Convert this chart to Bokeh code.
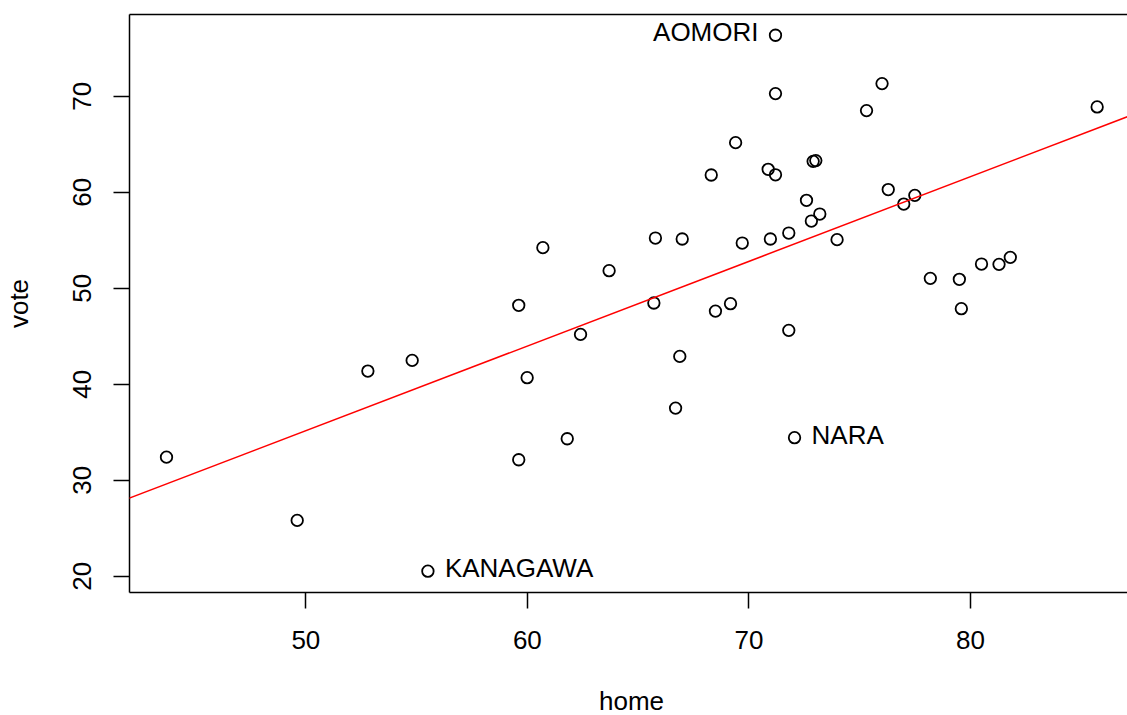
import numpy as np
import pandas as pd
from bokeh.plotting import figure
from bokeh.models import Range1d, FixedTicker, LinearAxis, Slope, ColumnDataSource, Label
from bokeh.core.properties import value
from bokeh.embed import file_html
from bokeh.resources import INLINE

# ---- data ----
home = [43.71, 49.61, 52.80, 54.80, 55.51, 59.61, 59.99, 59.61, 60.70, 61.80,
        62.40, 63.69, 65.71, 65.78, 66.69, 66.88, 66.99, 68.30, 68.49, 69.17,
        69.40, 69.70, 70.87, 70.97, 71.20, 71.20, 71.20, 71.80, 71.80, 72.06,
        72.60, 72.82, 72.90, 73.02, 73.20, 73.98, 75.31, 76.01, 76.29, 76.99,
        77.49, 78.19, 79.50, 79.59, 80.50, 81.29, 81.80, 85.72]
vote = [32.40, 25.81, 41.37, 42.48, 20.52, 48.22, 40.68, 32.13, 54.23, 34.32,
        45.19, 51.83, 48.46, 55.23, 37.51, 42.90, 55.13, 61.80, 47.62, 48.39,
        65.17, 54.71, 62.39, 55.13, 76.36, 70.28, 61.82, 55.75, 45.61, 34.43,
        59.16, 57.00, 63.22, 63.30, 57.73, 55.06, 68.51, 71.32, 60.28, 58.77,
        59.68, 51.03, 50.93, 47.87, 52.52, 52.49, 53.22, 68.89]
label = [""] * len(home)
label[4] = "KANAGAWA"
label[24] = "AOMORI"
label[29] = "NARA"
label_side = [""] * len(home)
label_side[4] = "right"
label_side[24] = "left"
label_side[29] = "right"

x_ticks = [50, 60, 70, 80]
y_ticks = [20, 30, 40, 50, 60, 70]
x_title = "home"
y_title = "vote"

df = pd.DataFrame(dict(home=home, vote=vote, label=label, side=label_side))

FONT = "Liberation Sans"
FS = "26px"

x0, x1 = 42.04, 87.09
y0, y1 = 18.30, 78.52
p = figure(width=1127, height=715, output_backend="svg", toolbar_location=None,
           x_range=Range1d(x0, x1), y_range=Range1d(y0, y1),
           min_border_left=129, min_border_right=0, min_border_top=14,
           min_border_bottom=123)
p.background_fill_color = "white"
p.border_fill_color = "white"
p.outline_line_color = None
p.grid.visible = False

for ax, ticks in ((p.xaxis[0], x_ticks), (p.yaxis[0], y_ticks)):
    ax.ticker = FixedTicker(ticks=ticks)
    ax.minor_tick_line_color = None
    ax.major_tick_in = 0
    ax.major_tick_out = 16
    ax.major_tick_line_width = 1.5
    ax.axis_line_width = 1.5
    ax.axis_line_color = "black"
    ax.major_tick_line_color = "black"
    ax.major_label_text_font = FONT
    ax.major_label_text_font_size = FS
    ax.major_label_text_color = "black"
    ax.axis_label_text_font = FONT
    ax.axis_label_text_font_size = FS
    ax.axis_label_text_font_style = "normal"
    ax.axis_label_text_color = "black"

p.yaxis.axis_label = y_title
p.xaxis.major_label_standoff = 22
p.yaxis.major_label_orientation = "vertical"
p.yaxis.major_label_standoff = 22
p.yaxis.axis_label_standoff = 37

# x-axis title, placed in the bottom panel below the tick labels
p.add_layout(Label(x=(x0 + x1) / 2, y=y0, x_units="data", y_units="data",
                   text=x_title, text_align="center", text_baseline="middle",
                   x_offset=3, y_offset=-108, text_font=FONT,
                   text_font_size=FS, text_color="black"), "below")

top = LinearAxis(ticker=FixedTicker(ticks=[]), axis_line_width=1.5,
                 axis_line_color="black", major_tick_line_color=None,
                 minor_tick_line_color=None, major_label_text_font_size="0px")
p.add_layout(top, "above")

# regression line (least squares of vote on home)
slope, intercept = np.polyfit(df.home, df.vote, 1)
p.add_layout(Slope(gradient=slope, y_intercept=intercept,
                   line_color="red", line_width=1.5))

src = ColumnDataSource(df)
p.scatter("home", "vote", source=src, size=11.5, marker="circle",
          fill_color=None, line_color="black", line_width=1.8)

left = ColumnDataSource(df[df.side == "left"])
right = ColumnDataSource(df[df.side == "right"])
p.text("home", "vote", text="label", source=left, text_align="right",
       text_baseline="middle", x_offset=-17, y_offset=-3,
       text_font=value(FONT), text_font_size=FS, text_color="black")
p.text("home", "vote", text="label", source=right, text_align="left",
       text_baseline="middle", x_offset=17, y_offset=-3,
       text_font=value(FONT), text_font_size=FS, text_color="black")

open("out.html", "w").write(file_html(p, INLINE))
